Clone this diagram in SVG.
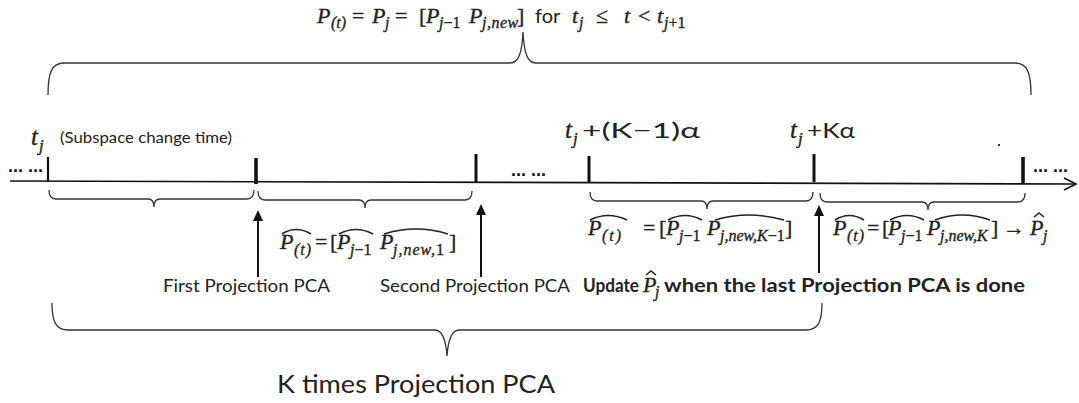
<svg xmlns="http://www.w3.org/2000/svg" width="1079" height="403" viewBox="0 0 1079 403">
<style>
.m{font-family:"Liberation Serif","DejaVu Serif",serif;font-style:italic;font-size:22px;fill:#222;stroke:#222;stroke-width:0.35}
.mt{font-size:22px}
.s{font-size:16px}
.u{font-style:normal}
.sans{font-family:Lato,"Liberation Sans",sans-serif;fill:#222}
.lbl{font-size:17px}
.b{font-weight:bold}
.brace{fill:none;stroke:#333;stroke-width:1.3}
.hat{fill:none;stroke:#222;stroke-width:1.5}
.tick{stroke:#111}
.arr{stroke:#111;stroke-width:2;fill:none}
.dots{font-family:"Liberation Sans",sans-serif;font-weight:bold;font-size:18px;fill:#111}
</style>
<defs>
<marker id="ah" viewBox="0 0 11 10" refX="7" refY="5" markerWidth="11" markerHeight="10" markerUnits="userSpaceOnUse" orient="auto">
<path d="M0,0 L11,5 L0,10 z" fill="#111"/>
</marker>
</defs>
<rect width="1079" height="403" fill="#fff"/>

<g id="top-formula">
<text class="m mt" y="23"><tspan x="317">P</tspan><tspan class="s" x="331" y="28">(t)</tspan><tspan class="u" x="352" y="23">=</tspan><tspan x="372">P</tspan><tspan class="s" x="385" y="28">j</tspan><tspan class="u" x="395" y="23">=</tspan><tspan class="u" x="419">[</tspan><tspan x="426">P</tspan><tspan class="s" x="439" y="28">j<tspan class="u">−1</tspan></tspan><tspan x="469" y="23">P</tspan><tspan class="s" x="482" y="28" letter-spacing="0.5">j,new</tspan><tspan class="u" x="517" y="23">]</tspan></text>
<text class="sans" x="535" y="23" font-size="20">for</text>
<text class="m mt" y="23"><tspan x="572">t</tspan><tspan class="s" x="579" y="28">j</tspan><tspan class="u" x="596" y="23">≤</tspan><tspan x="624">t</tspan><tspan class="u" x="638">&lt;</tspan><tspan x="657">t</tspan><tspan class="s" x="664" y="28">j<tspan class="u">+1</tspan></tspan></text>
</g>

<g id="top-brace"><path class="brace" d="M48,95 C48,72 52,63 64,63 L510,63 C519,63 522,52 523,32 C524,52 527,63 536,63 L1015,63 C1027,63 1031,72 1031,95"/></g>

<g id="timeline">
<path d="M10,181 L1074,184" stroke="#111" stroke-width="1.6" fill="none"/>
<polyline points="1064,178 1076,184 1064,190" stroke="#111" stroke-width="1.6" fill="none"/>
<line class="tick" x1="48" y1="157" x2="48" y2="182" stroke-width="2.2"/>
<line class="tick" x1="256" y1="158" x2="256" y2="184" stroke-width="3.6"/>
<line class="tick" x1="476" y1="154" x2="476" y2="182" stroke-width="3"/>
<line class="tick" x1="589" y1="156" x2="589" y2="183" stroke-width="3"/>
<line class="tick" x1="814" y1="154" x2="814" y2="182" stroke-width="3"/>
<line class="tick" x1="1023" y1="157" x2="1023" y2="184" stroke-width="3.6"/>
<text class="dots" x="8" y="172">... ...</text>
<text class="dots" x="511" y="176">... ...</text>
<text class="dots" x="1033" y="172">... ...</text>
<rect x="998" y="144" width="2" height="2" fill="#333"/>
</g>

<g id="label-tj">
<text class="m" fill="#444" stroke="#444"><tspan x="31" y="145" font-size="25">t</tspan><tspan x="39" y="151" font-size="17">j</tspan></text>
<text class="sans" x="60" y="143" font-size="16" textLength="172" lengthAdjust="spacingAndGlyphs">(Subspace change time)</text>
</g>

<g id="label-tK1">
<text class="m"><tspan x="565" y="138" font-size="25">t</tspan><tspan x="573" y="144" font-size="17">j</tspan></text>
<text class="sans" x="582" y="138" font-size="21" textLength="118" lengthAdjust="spacingAndGlyphs">+(K−1)α</text>
</g>

<g id="label-tK">
<text class="m"><tspan x="790" y="138" font-size="25">t</tspan><tspan x="798" y="144" font-size="17">j</tspan></text>
<text class="sans" x="807" y="138" font-size="21" textLength="48" lengthAdjust="spacingAndGlyphs">+Kα</text>
</g>

<g id="small-braces">
<path class="brace" d="M49,190 C49,196 51,199 56,199 L148,199 C152,199 154,202 154,207 C154,202 156,199 160,199 L247,199 C252,199 254,196 254,190"/>
<path class="brace" d="M258,191 C258,197 260,200 265,200 L359,200 C363,200 365,203 365,208 C365,203 367,200 371,200 L465,200 C470,200 472,197 472,191"/>
<path class="brace" d="M590,192 C590,198 592,201 597,201 L701,201 C705,201 707,204 707,209 C707,204 709,201 713,201 L806,201 C811,201 813,198 813,192"/>
<path class="brace" d="M820,193 C820,199 822,202 827,202 L922,202 C926,202 928,205 928,210 C928,205 930,202 934,202 L1018,202 C1023,202 1025,199 1025,193"/>
</g>

<g id="connectors">
<line class="arr" x1="258" y1="277" x2="258" y2="214" marker-end="url(#ah)"/>
<line class="arr" x1="481" y1="277" x2="481" y2="208" marker-end="url(#ah)"/>
<line class="arr" x1="819" y1="273" x2="819" y2="209" marker-end="url(#ah)"/>
</g>

<g id="formula-1">
<text class="m" y="249"><tspan x="280">P</tspan><tspan class="s" x="294" y="255" letter-spacing="1">(t)</tspan><tspan class="u" x="315" y="249">=</tspan><tspan class="u" x="330">[</tspan><tspan x="337">P</tspan><tspan class="s" x="350" y="255">j<tspan class="u">−1</tspan></tspan><tspan x="380" y="249">P</tspan><tspan class="s" x="393" y="255" letter-spacing="1">j,new,<tspan class="u">1</tspan></tspan><tspan class="u" x="449" y="249">]</tspan></text>
<path class="hat" d="M282,234 Q296,225 311,234"/>
<path class="hat" d="M339,234 Q356,225 373,234"/>
<path class="hat" d="M384,234 Q416,224 448,234"/>
</g>

<g id="formula-2">
<text class="m" y="235"><tspan x="588">P</tspan><tspan class="s" x="602" y="241" letter-spacing="2">(t)</tspan><tspan class="u" x="643" y="235">=</tspan><tspan class="u" x="659">[</tspan><tspan x="666">P</tspan><tspan class="s" x="679" y="241">j<tspan class="u">−1</tspan></tspan><tspan x="707" y="235">P</tspan><tspan class="s" x="720" y="241">j,new,K<tspan class="u">−1</tspan></tspan><tspan class="u" x="785" y="235">]</tspan></text>
<path class="hat" d="M590,220 Q608,211 627,220"/>
<path class="hat" d="M668,220 Q685,211 702,220"/>
<path class="hat" d="M715,220 Q749,210 784,220"/>
</g>

<g id="formula-3">
<text class="m" y="235"><tspan x="833">P</tspan><tspan class="s" x="847" y="241" letter-spacing="1">(t)</tspan><tspan class="u" x="867" y="235">=</tspan><tspan class="u" x="882">[</tspan><tspan x="888">P</tspan><tspan class="s" x="901" y="241">j<tspan class="u">−1</tspan></tspan><tspan x="927" y="235">P</tspan><tspan class="s" x="940" y="241">j,new,K</tspan><tspan class="u" x="991" y="235">]</tspan><tspan class="u" x="1003">→</tspan><tspan x="1030">P</tspan><tspan class="s" x="1043" y="241">j</tspan></text>
<path class="hat" d="M835,220 Q849,211 864,220"/>
<path class="hat" d="M890,220 Q907,211 924,220"/>
<path class="hat" d="M935,220 Q962,210 990,220"/>
<path class="hat" d="M1034,217 L1039,213 L1044,217"/>
</g>

<g id="label-first"><text class="sans lbl" x="163" y="292" textLength="167" lengthAdjust="spacingAndGlyphs">First Projection PCA</text></g>
<g id="label-second"><text class="sans lbl" x="380" y="292" textLength="190" lengthAdjust="spacingAndGlyphs">Second Projection PCA</text></g>
<g id="label-update">
<text class="sans b" x="583" y="292" font-size="19" textLength="56" lengthAdjust="spacingAndGlyphs">Update</text>
<text class="m" y="292" font-size="20"><tspan x="643">P</tspan><tspan class="s" x="655" y="297">j</tspan></text>
<path class="hat" d="M646,275 L651,271 L656,275"/>
<text class="sans b" x="664" y="292" font-size="19" textLength="361" lengthAdjust="spacingAndGlyphs">when the last Projection PCA is done</text>
</g>

<g id="bottom-brace"><path class="brace" d="M52,303 C52,322 56,330 68,330 L435,330 C443,330 446,342 447,356 C448,342 451,330 459,330 L806,330 C818,330 822,322 822,303"/></g>

<g id="label-k"><text class="sans" x="277" y="393" font-size="25" textLength="278" lengthAdjust="spacingAndGlyphs">K times Projection PCA</text></g>
</svg>
